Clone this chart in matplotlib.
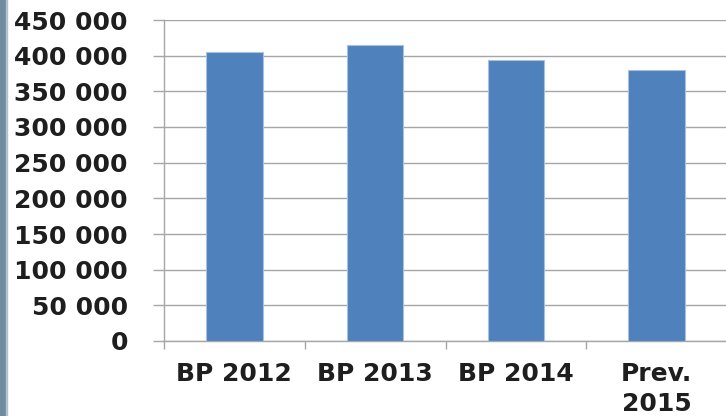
import matplotlib.pyplot as plt
from matplotlib.patches import Rectangle
from matplotlib.ticker import FuncFormatter

# valeurs du graphique
categories = ['BP 2012', 'BP 2013', 'BP 2014', 'Prev.\n2015']
valeurs = [405000, 415000, 394000, 380000]
yticks = list(range(0, 450001, 50000))

plt.rcParams['font.family'] = ['DejaVu Sans']
plt.rcParams['font.weight'] = 'bold'

W, H = 726, 416
fig = plt.figure(figsize=(W / 100, H / 100), dpi=100)
ax = fig.add_axes([164 / W, 75 / H, (727 - 164) / W, (396 - 75) / H])

grid_col = '#A6A6A6'
x = list(range(len(categories)))
ax.bar(x, valeurs, width=0.40, color='#4F81BD', edgecolor='#A9C1E0', linewidth=0.8, zorder=3)

ax.set_xlim(-0.5, len(categories) - 0.5)
ax.set_ylim(0, 450000)
ax.set_yticks(yticks)
ax.yaxis.set_major_formatter(FuncFormatter(lambda v, p: f'{int(v):,}'.replace(',', ' ')))
ax.grid(axis='y', color=grid_col, linewidth=1.0, zorder=0)

ax.set_xticks(x)
ax.set_xticklabels(categories, linespacing=1.3)
ax.set_xticks([i - 0.5 for i in range(len(categories) + 1)], minor=True)
ax.tick_params(axis='x', which='major', length=0, pad=15, labelsize=18, labelcolor='#1E1E1E')
ax.tick_params(axis='x', which='minor', length=5.8, width=1.0, color=grid_col)
ax.tick_params(axis='y', length=8, width=1.0, color=grid_col, pad=18, labelsize=18, labelcolor='#1E1E1E')

for s in ['top', 'right']:
    ax.spines[s].set_visible(False)
ax.spines['left'].set_color(grid_col)
ax.spines['bottom'].set_color(grid_col)
ax.spines['left'].set_linewidth(1.0)
ax.spines['bottom'].set_linewidth(1.0)

# bande latérale gauche
fig.patches.append(Rectangle((0, 0), 6 / W, 1, transform=fig.transFigure, color='#6F8CA1', zorder=0))
fig.patches.append(Rectangle((6 / W, 0), 1.2 / W, 1, transform=fig.transFigure, color='#B3C1CC', zorder=0))

fig.savefig('out.png', dpi=100)
